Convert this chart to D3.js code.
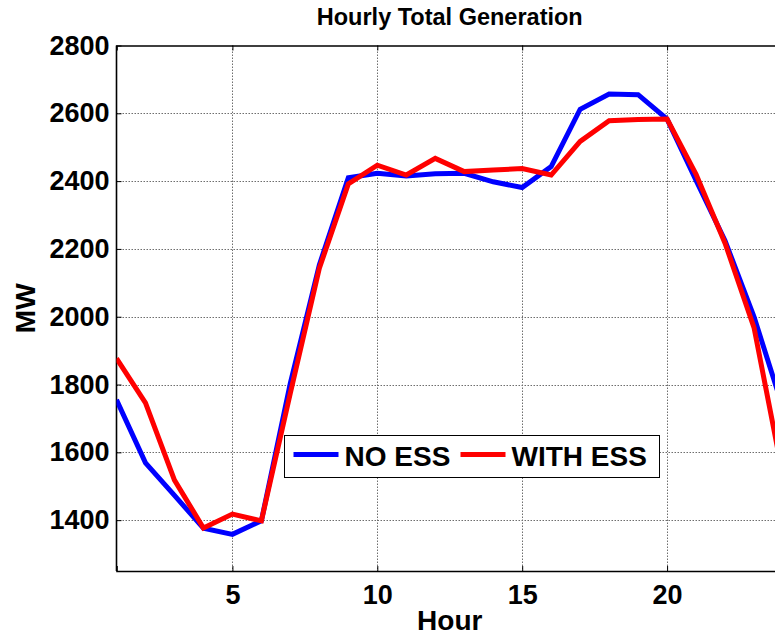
<!DOCTYPE html>
<html>
<head>
<meta charset="utf-8">
<script src="https://cdn.jsdelivr.net/npm/d3@7"></script>
<style>
  html, body { margin: 0; padding: 0; background: #fff; }
  svg { display: block; }
  text { font-family: "Liberation Sans", Arial, Helvetica, sans-serif; font-weight: bold; fill: #000; }
</style>
</head>
<body>
<svg id="chart" width="775" height="638"></svg>
<script>
const hours = [1,2,3,4,5,6,7,8,9,10,11,12,13,14,15,16,17,18,19,20,21,22,23,24];
const noEss = [1755,1569,1473,1376,1358,1398,1804,2153,2410,2423,2415,2422,2423,2398,2381,2443,2612,2657,2655,2583,2402,2224,2000,1730];
const withEss = [1877,1746,1518,1377,1418,1398,1775,2143,2392,2447,2418,2467,2428,2433,2437,2418,2517,2578,2582,2583,2420,2217,1968,1530];
const xTicks = [5,10,15,20];
const yTicks = [1400,1600,1800,2000,2200,2400,2600,2800];
const seriesNames = ["NO ESS", "WITH ESS"];
const seriesColors = ["#0000ff", "#ff0000"];

(function () {
const svg = d3.select("#chart");
const W = 775, H = 638;
const pL = 116.5, pR = 783, pT = 45.5, pB = 571;

const x = d3.scaleLinear().domain([1, 24]).range([pL, pR]);
const y = d3.scaleLinear().domain([1250, 2800]).range([pB, pT]);

svg.append("rect").attr("width", W).attr("height", H).attr("fill", "#fff");

svg.append("defs").append("clipPath").attr("id", "clip")
  .append("rect").attr("x", pL).attr("y", pT).attr("width", pR - pL).attr("height", pB - pT);

// grid
const grid = svg.append("g");
grid.selectAll("line.vx").data(xTicks).join("line")
  .attr("x1", d => Math.round(x(d)) + 0.5).attr("x2", d => Math.round(x(d)) + 0.5)
  .attr("y1", pT).attr("y2", pB)
  .attr("stroke", "#6e6e6e").attr("stroke-width", 1).attr("stroke-dasharray", "1.5,1.5");
grid.selectAll("line.hy").data(yTicks.filter(d => d < 2800)).join("line")
  .attr("x1", pL).attr("x2", pR)
  .attr("y1", d => Math.round(y(d)) + 0.5).attr("y2", d => Math.round(y(d)) + 0.5)
  .attr("stroke", "#6e6e6e").attr("stroke-width", 1).attr("stroke-dasharray", "1.5,1.5");

// axes
const xAxisB = d3.axisBottom(x).tickValues(xTicks).tickSize(-5).tickPadding(14).tickFormat(d3.format("d"));
const gxb = svg.append("g").attr("transform", `translate(0,${pB})`).call(xAxisB);
const xAxisT = d3.axisTop(x).tickValues(xTicks).tickSize(-5).tickFormat("");
const gxt = svg.append("g").attr("transform", `translate(0,${pT})`).call(xAxisT);
const yAxisL = d3.axisLeft(y).tickValues(yTicks).tickSize(-5).tickPadding(7).tickFormat(d3.format("d"));
const gyl = svg.append("g").attr("transform", `translate(${pL},0)`).call(yAxisL);
const yAxisR = d3.axisRight(y).tickValues(yTicks).tickSize(-5).tickFormat("");
const gyr = svg.append("g").attr("transform", `translate(${pR},0)`).call(yAxisR);

[gxb, gxt, gyl, gyr].forEach(g => {
  g.select(".domain").attr("stroke", "#000").attr("stroke-width", 1.6);
  g.selectAll(".tick line").attr("stroke", "#000").attr("stroke-width", 1);
  g.selectAll("text").attr("font-size", 27).attr("font-family", "Liberation Sans, Arial, sans-serif").attr("font-weight", "bold").attr("fill", "#000");
});
gyl.selectAll(".domain").attr("d", `M0,${pT}V${pB}`);

// lines
const line = d3.line().x((d, i) => x(hours[i])).y(d => y(d));
const plot = svg.append("g").attr("clip-path", "url(#clip)");
[noEss, withEss].forEach((vals, k) => {
  plot.append("path").datum(vals)
    .attr("d", line)
    .attr("fill", "none")
    .attr("stroke", seriesColors[k])
    .attr("stroke-width", 5)
    .attr("stroke-linejoin", "miter")
    .attr("stroke-miterlimit", 3);
});

// title and labels
svg.append("text").attr("x", (pL + pR) / 2).attr("y", 25).attr("text-anchor", "middle")
  .attr("font-size", 23.5).text("Hourly Total Generation");
svg.append("text").attr("x", (pL + pR) / 2).attr("y", 630).attr("text-anchor", "middle")
  .attr("font-size", 28).text("Hour");
svg.append("text").attr("transform", `translate(35,${(pT + pB) / 2}) rotate(-90)`)
  .attr("text-anchor", "middle").attr("font-size", 28).text("MW");

// legend
const lg = svg.append("g").attr("transform", "translate(284.5,435.5)");
lg.append("rect").attr("width", 375).attr("height", 42).attr("fill", "#fff").attr("stroke", "#000").attr("stroke-width", 1);
const entryX = [9, 176];
seriesNames.forEach((name, k) => {
  lg.append("line").attr("x1", entryX[k]).attr("x2", entryX[k] + 45).attr("y1", 19).attr("y2", 19)
    .attr("stroke", seriesColors[k]).attr("stroke-width", 5);
  lg.append("text").attr("x", entryX[k] + 51).attr("y", 30).attr("font-size", 28).text(name);
});
})();
</script>
</body>
</html>
